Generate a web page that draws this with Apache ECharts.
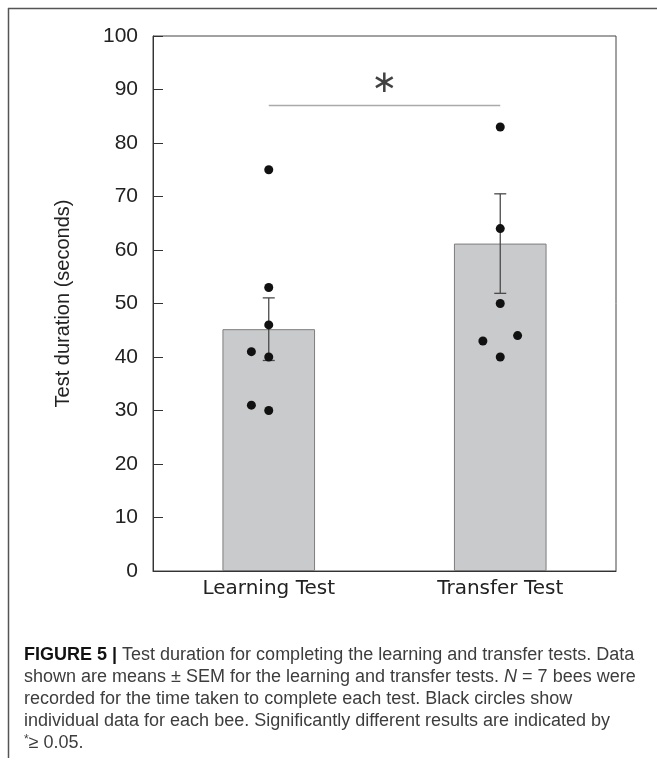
<!DOCTYPE html>
<html>
<head>
<meta charset="utf-8">
<script src="https://cdn.jsdelivr.net/npm/echarts@6/dist/echarts.min.js"></script>
<style>
html,body{margin:0;padding:0;background:#fff;}
#chart{width:657px;height:767px;}
</style>
</head>
<body>
<div id="chart"></div>
<script>
// ---- data ----
var categories = ['Learning Test', 'Transfer Test'];
var meanDuration = [45.2, 61.2];
var semDuration = [5.85, 9.3];
var learningPoints = [75, 53, 46, 41, 40, 31, 30];
var learningColumn = [0, 0, 0, -1, 0, -1, 0];   // -1 left, 0 centre, 1 right
var transferPoints = [83, 64, 50, 43, 44, 40];
var transferColumn = [0, 0, 0, -1, 1, 0];
var sigLevel = 87;
var yTicks = [0, 10, 20, 30, 40, 50, 60, 70, 80, 90, 100];
var captionLines = [
  '{b|FIGURE 5 |} Test duration for completing the learning and transfer tests. Data',
  'shown are means \u00b1 SEM for the learning and transfer tests. {i|N} = 7 bees were',
  'recorded for the time taken to complete each test. Black circles show',
  'individual data for each bee. Significantly different results are indicated by',
  '{s|*}\u2265 0.05.'
];

var JITTER = 0.075;
function pts(vals, cols, idx) {
  return vals.map(function (v, i) { return [idx + cols[i] * JITTER, v]; });
}
var scatterData = pts(learningPoints, learningColumn, 0).concat(pts(transferPoints, transferColumn, 1));
var errData = meanDuration.map(function (m, i) { return [i, m - semDuration[i], m + semDuration[i]]; });

var chart = echarts.init(document.getElementById('chart'), null, {renderer: 'canvas'});

var capFont = '"Liberation Sans", Arial, sans-serif';
var capSize = 18;
var graphics = [
  {type: 'line', shape: {x1: 8, y1: 8.5, x2: 700, y2: 8.5}, style: {stroke: '#555', lineWidth: 1.5}},
  {type: 'line', shape: {x1: 8.5, y1: 8, x2: 8.5, y2: 758}, style: {stroke: '#555', lineWidth: 1.5}}
];
var capY = [656, 678, 700, 722, 744];
captionLines.forEach(function (t, i) {
  graphics.push({
    type: 'text', left: 24, top: capY[i] - 10,
    style: {
      text: t, fontFamily: capFont, fontSize: capSize, fill: '#3d3d3d',
      rich: {
        b: {fontWeight: 'bold', fill: '#111', fontFamily: capFont, fontSize: capSize},
        i: {fontStyle: 'italic', fill: '#3d3d3d', fontFamily: capFont, fontSize: capSize},
        s: {fill: '#3d3d3d', fontFamily: capFont, fontSize: 12, verticalAlign: 'top', padding: [0, 0, 6, 0]}
      }
    }
  });
});

var option = {
  animation: false,
  backgroundColor: '#fff',
  grid: {left: 153, right: 41, top: 36, bottom: 196, show: true, borderColor: '#444', borderWidth: 1, backgroundColor: 'transparent'},
  xAxis: [
    {
      type: 'category', data: categories,
      axisLine: {lineStyle: {color: '#333', width: 1}},
      axisTick: {show: false},
      axisLabel: {fontFamily: '"DejaVu Sans", Verdana, sans-serif', fontSize: 20, color: '#222', margin: 8}
    },
    {type: 'value', min: -0.5, max: 1.5, show: false}
  ],
  yAxis: {
    type: 'value', min: 0, max: 100, interval: 10,
    name: 'Test duration (seconds)', nameLocation: 'middle', nameGap: 80, nameRotate: 90,
    nameTextStyle: {fontFamily: '"Liberation Sans", Arial, sans-serif', fontSize: 20, color: '#222'},
    axisLine: {show: true, onZero: false, lineStyle: {color: '#333', width: 1}},
    axisTick: {show: true, inside: true, length: 10, lineStyle: {color: '#333'}},
    axisLabel: {
      fontFamily: '"Liberation Sans", Arial, sans-serif', fontSize: 21, color: '#222', margin: 15,
      formatter: function (v) { return yTicks.indexOf(v) >= 0 ? String(v) : ''; }
    },
    splitLine: {show: false}
  },
  series: [
    {
      type: 'bar', data: meanDuration, barWidth: '40%',
      itemStyle: {color: '#c9cacc', borderColor: '#7d7d7d', borderWidth: 1},
      z: 1
    },
    {
      type: 'custom', xAxisIndex: 0, z: 3,
      data: errData,
      renderItem: function (params, api) {
        var x = api.value(0), lo = api.value(1), hi = api.value(2);
        var pLo = api.coord([x, lo]), pHi = api.coord([x, hi]);
        var w = 6;
        var st = {stroke: '#4a4a4a', lineWidth: 1.3};
        return {type: 'group', children: [
          {type: 'line', shape: {x1: pLo[0], y1: pLo[1], x2: pHi[0], y2: pHi[1]}, style: st},
          {type: 'line', shape: {x1: pHi[0] - w, y1: pHi[1], x2: pHi[0] + w, y2: pHi[1]}, style: st},
          {type: 'line', shape: {x1: pLo[0] - w, y1: pLo[1], x2: pLo[0] + w, y2: pLo[1]}, style: st}
        ]};
      }
    },
    {
      type: 'scatter', xAxisIndex: 1, data: scatterData,
      symbol: 'circle', symbolSize: 9,
      itemStyle: {color: '#111', opacity: 1}, z: 4
    },
    {
      type: 'line', xAxisIndex: 1, data: [[0, sigLevel], [1, sigLevel]],
      symbol: 'none', lineStyle: {color: '#aaa', width: 1.5}, z: 2,
      label: {show: false}
    },
    {
      type: 'scatter', xAxisIndex: 1, data: [[0.5, sigLevel]],
      symbolSize: 0, z: 5,
      label: {show: true, position: 'top', distance: 6, formatter: '\u2217',
        fontFamily: '"DejaVu Sans", sans-serif', fontSize: 31, color: '#111'}
    }
  ],
  graphic: graphics
};
chart.setOption(option);
</script>
</body>
</html>
